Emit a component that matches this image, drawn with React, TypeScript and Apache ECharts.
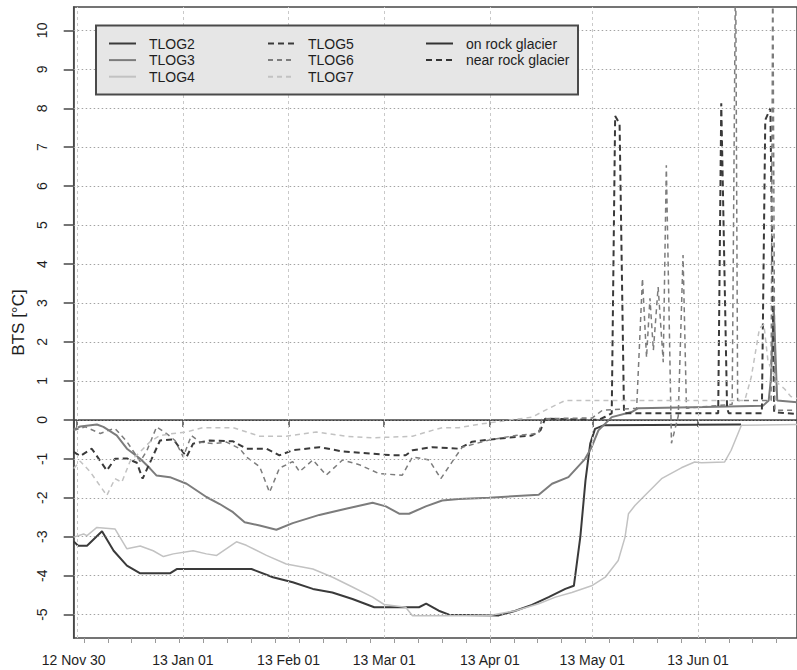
import { useEffect, useRef } from "react";
import * as echarts from "echarts";

// ---------- axis setup ----------
const START_DATE = "2012-11-30"; // day 0 of the x axis
const X_MAX_DAYS = 212;
const Y_MIN = -5.6;
const Y_MAX = 10.6;
const Y_TICKS = [-5, -4, -3, -2, -1, 0, 1, 2, 3, 4, 5, 6, 7, 8, 9, 10];
const X_LABEL_DATES = ["2012-11-30", "2013-01-01", "2013-02-01", "2013-03-01", "2013-04-01", "2013-05-01", "2013-06-01"];
const X_LABELS = ["12 Nov 30", "13 Jan 01", "13 Feb 01", "13 Mar 01", "13 Apr 01", "13 May 01", "13 Jun 01"];
const X_GRID_DATES = ["2012-12-01", "2013-01-01", "2013-02-01", "2013-03-01", "2013-04-01", "2013-05-01", "2013-06-01"];
const FIRST_MONDAY = "2012-12-03";

// ---------- data: [days since START_DATE, BTS °C] ----------
const TLOG2: [number, number][] = [
  [0, -3.12], [1.3, -3.23], [3.9, -3.23], [8.3, -2.86], [11.7, -3.36], [15.6, -3.74], [19.5, -3.94],
  [28.2, -3.94], [30.2, -3.83], [52.1, -3.83], [58.4, -4.04], [64.2, -4.17], [70.1, -4.34], [75.8, -4.43],
  [81.7, -4.6], [88.1, -4.81], [101.2, -4.81], [103.3, -4.72], [107, -4.9], [110, -5.0], [124.6, -5.02],
  [129.5, -4.9], [134.3, -4.75], [139.2, -4.55], [144.1, -4.34], [146.6, -4.26], [148.5, -3.0], [150, -1.56],
  [151.4, -0.61], [152.8, -0.23], [155.3, -0.14], [195.6, -0.12],
];
const TLOG3: [number, number][] = [
  [0, -0.25], [1.9, -0.17], [6.8, -0.12], [8.7, -0.18], [12.6, -0.4], [15.6, -0.74], [19.5, -1.0],
  [22.4, -1.25], [24.3, -1.43], [28.2, -1.47], [33.1, -1.64], [38.9, -1.98], [42.8, -2.16], [46.7, -2.37],
  [50.1, -2.63], [54.5, -2.71], [59.4, -2.82], [64.2, -2.65], [72, -2.44], [79.8, -2.28], [87.6, -2.13],
  [91.5, -2.22], [95.4, -2.41], [98.3, -2.41], [103.2, -2.22], [108, -2.07], [112.9, -2.03], [121.7, -2.0],
  [136.3, -1.92], [140.2, -1.64], [145, -1.47], [149.9, -1.0], [151.8, -0.7], [153.8, -0.27], [157.7, 0.07],
  [163.5, 0.2], [165.5, 0.3], [185, 0.33], [202, 0.36], [203.7, 0.5], [204.3, 1.0], [205.2, 2.85],
  [206.2, 0.5], [212, 0.45],
];
const TLOG4: [number, number][] = [
  [0, -3.01], [2.9, -2.93], [3.9, -2.97], [6.8, -2.76], [12.1, -2.8], [15.6, -3.31], [19.5, -3.24],
  [23.3, -3.36], [26.3, -3.51], [29.2, -3.44], [35, -3.36], [38.9, -3.44], [41.9, -3.48], [47.7, -3.13],
  [50.6, -3.22], [56.5, -3.48], [62.3, -3.7], [70.1, -3.83], [75.9, -4.04], [81.7, -4.29], [87.6, -4.55],
  [91, -4.74], [97.3, -4.81], [99.3, -5.03], [121.7, -5.03], [124.6, -4.98], [129.5, -4.9], [136.3, -4.72],
  [141.2, -4.55], [146, -4.43], [151.8, -4.26], [155.8, -4.04], [159.6, -3.61], [161.6, -3.01], [162.6, -2.41],
  [164.5, -2.2], [167.4, -1.94], [172.3, -1.51], [178.1, -1.23], [182, -1.08], [184, -1.1], [190.8, -1.08],
  [192.7, -0.78], [195.7, -0.14], [212, -0.12],
];
const TLOG5: [number, number][] = [
  [0, -0.82], [1.9, -0.93], [5.3, -0.74], [9.7, -1.3], [12.1, -1.0], [15.6, -0.99], [18.5, -1.1],
  [20.2, -1.51], [25.3, -0.53], [29.2, -0.5], [33.1, -0.95], [35, -0.61], [39.9, -0.53], [46.7, -0.55],
  [50.6, -0.74], [56.5, -0.74], [60.3, -0.91], [64.2, -0.78], [72, -0.7], [78.8, -0.81], [93.4, -0.91],
  [97.3, -0.91], [99.3, -0.78], [105.1, -0.7], [112.9, -0.74], [116.8, -0.56], [124.6, -0.48], [134.3, -0.4],
  [136.8, -0.27], [138.2, 0.03], [153.8, 0.0], [155.8, 0.08], [157.7, 0.17], [158.7, 7.8], [160, 7.6],
  [161.3, 0.17], [188.9, 0.17], [189.8, 8.13], [191.5, 0.3], [192, 0.17], [201.7, 0.17], [202.7, 7.7],
  [204.2, 8.0], [205.3, 0.2], [212, 0.15],
];
const TLOG6: [number, number][] = [
  [0, -0.27], [3.4, -0.18], [7.8, -0.35], [10.2, -0.27], [12.1, -0.22], [15.6, -0.56], [19.5, -1.07],
  [21.4, -0.8], [24.3, -0.18], [27.2, -0.35], [29.7, -0.53], [32.1, -0.95], [34.5, -0.4], [37, -0.57],
  [40.9, -0.61], [44.8, -0.57], [48.7, -0.74], [50.6, -0.95], [54.5, -1.2], [57.4, -1.86], [60.3, -1.24],
  [64.2, -1.07], [66.2, -1.33], [70.1, -1.03], [74, -1.42], [78.8, -1.03], [83.7, -1.15], [89.5, -1.38],
  [96.3, -1.42], [99.3, -0.95], [104.2, -1.03], [107.6, -1.51], [111.9, -0.95], [113.9, -0.7], [121.7, -0.52],
  [129.5, -0.4], [136.3, -0.35], [137.2, 0.03], [152, 0.05], [155, 0.25], [165, 0.3], [166.7, 3.63],
  [167.9, 1.6], [168.9, 3.12], [169.9, 1.79], [171.3, 3.41], [172.8, 1.48], [173.7, 6.54], [175.2, -0.6],
  [177.2, 0.1], [178.6, 4.23], [179.6, 0.3], [193, 0.4], [194, 12], [194.6, 0.5], [204.4, 0.5],
  [204.9, 12], [205.5, 0.25], [212, 0.25],
];
const TLOG7: [number, number][] = [
  [0, -1.25], [1.9, -1.06], [4.8, -1.33], [9.7, -1.94], [12.1, -1.51], [14.1, -1.6], [16.5, -1.07],
  [19.5, -0.82], [22.4, -0.56], [25.3, -0.4], [29.2, -0.35], [33.1, -0.31], [37.9, -0.2], [46.7, -0.2],
  [54.5, -0.42], [62.3, -0.42], [71.1, -0.31], [79.8, -0.42], [87.6, -0.46], [99.3, -0.42], [105.1, -0.27],
  [108, -0.2], [112.9, -0.2], [119.7, -0.1], [134.3, 0.07], [139.2, 0.29], [144.1, 0.5], [196.7, 0.5],
  [198.6, 1.1], [201, 2.35], [202.3, 2.45], [203.5, 1.5], [206.4, 0.94], [208.3, 0.8], [210.2, 0.6],
  [212, 0.55],
];

const DARK = "#3a3a3a";
const MID = "#7c7c7c";
const LIGHT = "#c2c2c2";
const FONT = "'Liberation Sans', Arial, Helvetica, sans-serif";

function dayOf(iso: string): number {
  const [y, m, d] = iso.split("-").map(Number);
  const [y0, m0, d0] = START_DATE.split("-").map(Number);
  return Math.round((Date.UTC(y, m - 1, d) - Date.UTC(y0, m0 - 1, d0)) / 86400000);
}

export default function App() {
  const ref = useRef<HTMLDivElement>(null);

  useEffect(() => {
    if (!ref.current) return;
    const chart = echarts.init(ref.current, undefined, { renderer: "svg" });

    const labelDays = X_LABEL_DATES.map(dayOf);
    const majorTicks = [...labelDays, dayOf("2012-12-01")];
    const gridDays = X_GRID_DATES.map(dayOf);
    const minorTicks: number[] = [];
    for (let d = dayOf(FIRST_MONDAY); d <= X_MAX_DAYS; d += 7) minorTicks.push(d);

    const gridTop = 7;
    const gridHeight = 631;

    const mkSeries = (name: string, data: [number, number][], color: string, width: number, type: any) => ({
      name,
      type: "line",
      data,
      symbol: "none",
      showSymbol: false,
      z: 3,
      silent: true,
      lineStyle: { color, width, type },
      itemStyle: { color },
      emphasis: { disabled: true },
    });

    const legendCommon = {
      orient: "vertical",
      top: 36.5,
      padding: 0,
      itemWidth: 27,
      itemHeight: 14,
      itemGap: 2.6,
      selectedMode: false,
      z: 60,
      itemStyle: { opacity: 0 },
      textStyle: { fontSize: 14, color: "#1e1e1e", fontFamily: FONT, padding: [0, 0, 0, 8] },
    };

    chart.setOption({
      animation: false,
      backgroundColor: "#ffffff",
      textStyle: { fontFamily: FONT },
      grid: {
        left: 73.7,
        top: gridTop,
        height: gridHeight,
        right: -2,
        show: true,
        borderColor: "#474747",
        borderWidth: 1.5,
        backgroundColor: "transparent",
      },
      legend: [
        { ...legendCommon, left: 108, data: ["TLOG2", "TLOG3", "TLOG4"] },
        { ...legendCommon, left: 267, data: ["TLOG5", "TLOG6", "TLOG7"] },
        { ...legendCommon, left: 425, data: ["on rock glacier", "near rock glacier"] },
      ],
      graphic: [
        {
          type: "rect",
          z: 50,
          shape: { x: 96, y: 25.5, width: 482, height: 69 },
          style: { fill: "#e6e6e6", stroke: "#4a4a4a", lineWidth: 2 },
        },
      ],
      xAxis: [
        {
          type: "value",
          min: 0,
          max: X_MAX_DAYS,
          axisLine: { show: true, lineStyle: { color: "#474747", width: 1.5 } },
          axisTick: { show: true, length: 7, customValues: majorTicks, lineStyle: { color: "#474747", width: 1.5 } },
          axisLabel: {
            show: true,
            customValues: labelDays,
            margin: 15,
            fontSize: 14,
            color: "#1e1e1e",
            fontFamily: FONT,
            formatter: (v: number) => {
              const i = labelDays.indexOf(Math.round(v));
              return i >= 0 ? X_LABELS[i] : "";
            },
          },
          splitLine: { show: false },
        },
        {
          type: "value",
          position: "top",
          offset: -gridHeight,
          min: 0,
          max: X_MAX_DAYS,
          axisLine: { show: false },
          axisTick: { show: true, inside: true, length: 5, customValues: minorTicks, lineStyle: { color: "#9a9a9a", width: 1 } },
          axisLabel: { show: false },
          splitLine: { show: false },
        },
      ],
      yAxis: {
        type: "value",
        min: Y_MIN,
        max: Y_MAX,
        name: "BTS [°C]",
        nameLocation: "middle",
        nameGap: 38,
        nameTextStyle: { fontSize: 17, color: "#1e1e1e", fontFamily: FONT },
        axisLine: { show: true, lineStyle: { color: "#474747", width: 1.5 } },
        axisTick: { show: true, length: 10, customValues: Y_TICKS, lineStyle: { color: "#474747", width: 1.5 } },
        axisLabel: {
          show: true,
          customValues: Y_TICKS,
          rotate: 90,
          margin: 25,
          fontSize: 14,
          color: "#1e1e1e",
          fontFamily: FONT,
        },
        splitLine: { show: false },
      },
      series: [
        {
          name: "__grid",
          type: "line",
          data: [],
          z: 1,
          silent: true,
          markLine: {
            silent: true,
            symbol: ["none", "none"],
            label: { show: false },
            animation: false,
            emphasis: { disabled: true },
            data: [
              ...Y_TICKS.filter((v) => v !== 0).map((v) => ({
                yAxis: v,
                lineStyle: { color: "#a3a3a3", width: 1, type: [1.5, 2.5] },
              })),
              ...gridDays.map((d) => ({
                xAxis: d,
                lineStyle: { color: "#c9c9c9", width: 1, type: [3, 3] },
              })),
              { yAxis: 0, lineStyle: { color: "#3c3c3c", width: 1.2, type: [1.5, 2] } },
            ],
          },
        },
        mkSeries("TLOG2", TLOG2, DARK, 2, "solid"),
        mkSeries("TLOG3", TLOG3, MID, 2, "solid"),
        mkSeries("TLOG4", TLOG4, LIGHT, 1.5, "solid"),
        mkSeries("TLOG5", TLOG5, DARK, 2, [6, 4]),
        mkSeries("TLOG6", TLOG6, MID, 1.5, [5, 4]),
        mkSeries("TLOG7", TLOG7, LIGHT, 1.5, [5, 4]),
        mkSeries("on rock glacier", [], "#333333", 2, "solid"),
        mkSeries("near rock glacier", [], "#333333", 2, [6, 4]),
      ],
    });

    return () => chart.dispose();
  }, []);

  return (
    <div
      ref={ref}
      style={{ position: "fixed", left: 0, top: 0, width: 797, height: 670, background: "#ffffff" }}
    />
  );
}
